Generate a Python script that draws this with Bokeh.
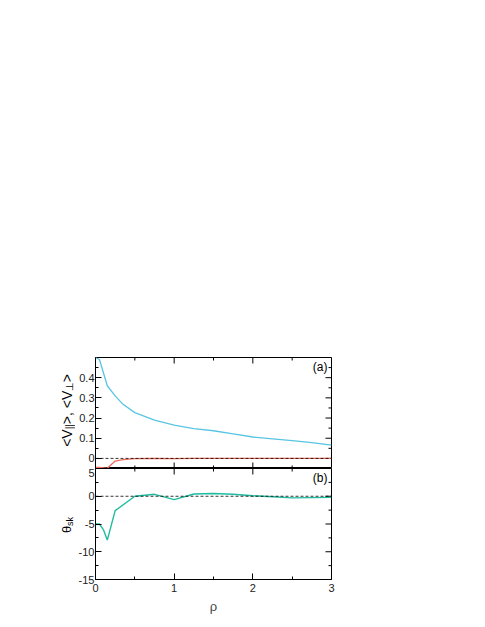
from math import pi
from bokeh.plotting import figure
from bokeh.models import LinearAxis, FixedTicker, Span, Label, Range1d, CustomJSTickFormatter
from bokeh.layouts import column, row
from bokeh.embed import file_html
from bokeh.resources import INLINE

# ---- data ----
rho_a = [0, 0.05, 0.15, 0.25, 0.35, 0.5, 0.75, 1.0, 1.25, 1.5, 1.75, 2.0, 2.25, 2.5, 2.75, 3.0]
v_par = [0.50, 0.49, 0.36, 0.31, 0.268, 0.227, 0.19, 0.165, 0.148, 0.137, 0.122, 0.106, 0.097, 0.088, 0.078, 0.066]
v_perp = [-0.044, -0.045, -0.049, -0.013, -0.006, -0.0015, 0.0, -0.001, 0.0, 0.0, 0.0, 0.0, 0.0, 0.0, 0.0, 0.0]

rho_b = [0, 0.05, 0.1, 0.15, 0.25, 0.5, 0.75, 1.0, 1.25, 1.5, 1.75, 2.0, 2.25, 2.5, 2.75, 3.0]
theta_sk = [-5.0, -5.0, -6.0, -7.9, -2.6, 0.0, 0.35, -0.6, 0.4, 0.5, 0.35, 0.1, -0.1, -0.3, -0.25, -0.2]

x_major = [0, 1, 2, 3]
x_minor = [0.5, 1.5, 2.5]
ya_major = [0, 0.1, 0.2, 0.3, 0.4]
ya_minor = [0.05, 0.15, 0.25, 0.35, 0.45]
yb_major = [-15, -10, -5, 0, 5]
yb_minor = [-12.5, -7.5, -2.5, 2.5]

XR = (0, 3)
YA = (-0.05, 0.5)
YB = (-15, 5)

FONT = "Liberation Sans"
C_PAR = "#58C5E2"
C_PERP = "#F06C5C"
C_TH = "#1FBC9F"

FW, FH = 236, 111
LW = 75           # width of the strip holding the rotated y labels
LEFT = 95 - LW    # left border of the panels
TOP = 357
MAJ, MIN = 6, 3   # tick lengths in px

W = {'<': 0.584, '>': 0.584, 'V': 0.667, ',': 0.278, ' ': 0.278, '|': 0.26,
     '\u22a5': 0.838, '\u03b8': 0.556, 's': 0.5, 'k': 0.5}


def tw(text, size):
    return sum(W.get(c, 0.6) for c in text) * size


fmt = CustomJSTickFormatter(code="return String(tick);")


def make_axis(ticks, minor, standoff):
    ax = LinearAxis(ticker=FixedTicker(ticks=ticks, minor_ticks=minor), formatter=fmt)
    ax.major_tick_in = MAJ
    ax.major_tick_out = 0
    ax.minor_tick_in = MIN
    ax.minor_tick_out = 0
    ax.axis_line_color = "black"
    ax.major_tick_line_color = "black"
    ax.minor_tick_line_color = "black"
    ax.major_label_text_font = FONT
    ax.major_label_text_font_size = "11px"
    ax.major_label_text_color = "#222222"
    ax.major_label_standoff = standoff
    return ax


def base_fig(yr, top, bottom):
    p = figure(frame_width=FW, frame_height=FH, x_range=Range1d(*XR), y_range=Range1d(*yr),
               x_axis_location=None, y_axis_location=None, toolbar_location=None,
               output_backend="svg", min_border_left=LEFT, min_border_right=12,
               min_border_top=top, min_border_bottom=bottom)
    p.xgrid.visible = False
    p.ygrid.visible = False
    p.outline_line_color = "black"
    p.outline_line_width = 1
    p.background_fill_color = "white"
    p.border_fill_color = "white"
    p.add_layout(Span(location=0, dimension="width", line_color="black",
                      line_dash="3 2", line_width=0.8))
    return p


def x_ticks_edge(p, yr, edge):
    # mirrored x ticks along the top (edge=1) or bottom (edge=0) of the frame
    dy = (yr[1] - yr[0]) / FH
    y0 = yr[1] if edge == 1 else yr[0]
    sgn = -1 if edge == 1 else 1
    for ticks, ln in ((x_major, MAJ), (x_minor, MIN)):
        p.segment(x0=ticks, y0=[y0] * len(ticks), x1=ticks,
                  y1=[y0 + sgn * ln * dy] * len(ticks), line_color="black", line_width=1)


def y_ticks_right(p, yr, major, minor):
    dx = (XR[1] - XR[0]) / FW
    for ticks, ln in ((major, MAJ), (minor, MIN)):
        p.segment(x0=[XR[1]] * len(ticks), y0=ticks, x1=[XR[1] - ln * dx] * len(ticks),
                  y1=ticks, line_color="black", line_width=1)


# ---- panel (a) ----
p1 = base_fig(YA, TOP, 0)
p1.add_layout(make_axis(ya_major, ya_minor, 1), "left")
x_ticks_edge(p1, YA, 1)
x_ticks_edge(p1, YA, 0)
y_ticks_right(p1, YA, ya_major, ya_minor)
p1.line(rho_a, v_par, line_color=C_PAR, line_width=1.3)
p1.line(rho_a, v_perp, line_color=C_PERP, line_width=1.3)
p1.add_layout(Label(x=XR[1], y=YA[1], text="(a)", text_align="right", text_baseline="top",
                    x_offset=-4, y_offset=-2, text_font=FONT, text_font_size="12px",
                    text_color="black"))

# ---- panel (b) ----
p2 = base_fig(YB, 0, 40)
p2.add_layout(make_axis(yb_major, yb_minor, 1), "left")
bx = make_axis(x_major, x_minor, 4)
bx.axis_label = "\u03c1"
bx.axis_label_text_font = FONT
bx.axis_label_text_font_style = "normal"
bx.axis_label_text_font_size = "13px"
bx.axis_label_standoff = 4
p2.add_layout(bx, "below")
x_ticks_edge(p2, YB, 1)
y_ticks_right(p2, YB, yb_major, yb_minor)
p2.line(rho_b, theta_sk, line_color=C_TH, line_width=1.4)
p2.add_layout(Label(x=XR[1], y=YB[1], text="(b)", text_align="right", text_baseline="top",
                    x_offset=-4, y_offset=-2, text_font=FONT, text_font_size="12px",
                    text_color="black"))

# ---- strip with the rotated y-axis titles (pixel coordinates, y down) ----
H1 = TOP + FH
H2 = FH + 40
HT = H1 + H2
lf = figure(frame_width=LW, frame_height=HT, x_range=Range1d(0, LW), y_range=Range1d(HT, 0),
            x_axis_location=None, y_axis_location=None, toolbar_location=None,
            output_backend="svg", min_border=0)
lf.xgrid.visible = False
lf.ygrid.visible = False
lf.outline_line_color = None
lf.background_fill_color = "white"
lf.border_fill_color = "white"


def rot_label(p, x, y, pieces):
    # pieces: (text, size, x_offset_px); read bottom -> top, centred at y.
    # each piece is anchored at its upper end (right-aligned, rotated 90 deg)
    total = sum(tw(t, s) for t, s, _ in pieces)
    off = -total / 2.0
    for t, s, dx in pieces:
        off += tw(t, s)
        p.add_layout(Label(x=x, y=y, text=t, angle=pi / 2, text_align="right",
                           text_baseline="alphabetic", text_font=FONT,
                           text_font_size=f"{s}px", text_color="black",
                           x_offset=dx, y_offset=off))


rot_label(lf, 66, 410, [("<V", 14, 0), ("||", 10, 2.5), (">, <V", 14, 0),
                        ("\u22a5", 10, 2.5), (">", 14, 0)])
rot_label(lf, 65.5, 524.5, [("\u03b8", 13, 0), ("sk", 9, 3.5)])

layout = row(lf, column(p1, p2, spacing=0), spacing=0)
open("out.html", "w").write(file_html(layout, INLINE))
